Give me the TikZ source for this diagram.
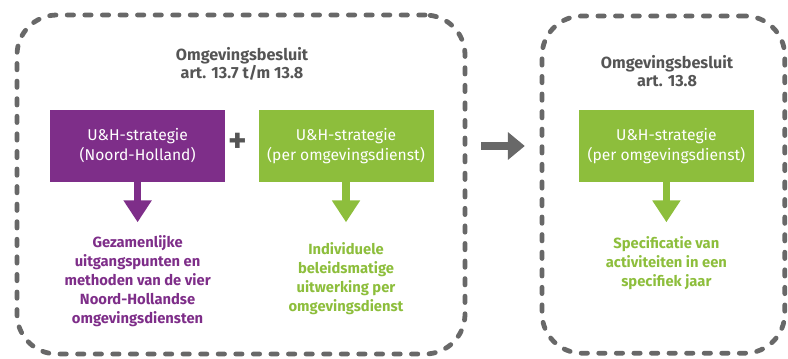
\documentclass[tikz,border=0pt]{standalone}
\usepackage{fontspec}
\setmainfont{Fira Sans}
\usepackage{tikz}
\usetikzlibrary{arrows.meta, positioning, calc}
\definecolor{nhpurple}{HTML}{7E2E89}
\definecolor{odgreen}{HTML}{8DBE3C}
\definecolor{framegray}{HTML}{686868}
\definecolor{titlegray}{HTML}{555555}
\tikzset{
  frame/.style={draw=framegray, line width=3.4pt, line cap=round, dash pattern=on 4.5pt off 8pt, rounded corners=1cm},
  box/.style={rectangle, minimum width=4.375cm, minimum height=1.8cm, text=white, align=center, font=\fontsize{11.1}{14.2}\selectfont},
  pbox/.style={box, fill=nhpurple},
  gbox/.style={box, fill=odgreen},
  title/.style={align=center, text=titlegray, font=\bfseries\fontsize{11.5}{13}\selectfont},
  result/.style={align=center, font=\bfseries\fontsize{10.5}{13.5}\selectfont},
  down/.style={-{Triangle[width=19pt, length=15.5pt]}, line width=5pt},
  step arrow/.style={-{Triangle[width=19pt, length=12pt]}, line width=6pt, framegray},
}

\begin{document}
\begin{tikzpicture}
  \useasboundingbox (0,0) rectangle (19.7,-8.95);

  % the two phases
  \node[frame, minimum width=11.2cm, minimum height=8.475cm] (fase1) at (6.025,-4.6125) {};
  \node[frame, minimum width=6.07cm, minimum height=8.43cm] (fase2) at (16.585,-4.615) {};

  \node[title] (t1) at (6.05,-1.6) {Omgevingsbesluit\\art. 13.7 t/m 13.8};
  \node[title] (t2) at (16.675,-1.775) {Omgevingsbesluit\\art. 13.8};

  \node[pbox] (nh) at (3.44,-3.65) {U\&H-strategie\\(Noord-Holland)};
  \node[gbox] (od) at (8.65,-3.65) {U\&H-strategie\\(per omgevingsdienst)};
  \node[text=titlegray, font=\bfseries\fontsize{25}{25}\selectfont, inner sep=0pt] (plus) at (5.95,-3.575) {+};
  \node[gbox] (od2) at (16.66,-3.65) {U\&H-strategie\\(per omgevingsdienst)};

  \draw[down, nhpurple] (nh.south) -- ++(0,-1) coordinate (nhtip);
  \draw[down, odgreen] (od.south) -- ++(0,-1) coordinate (odtip);
  \draw[down, odgreen] (od2.south) -- ++(0,-1) coordinate (od2tip);

  \node[result, text=nhpurple, below=0.2cm of nhtip] (gez)
    {Gezamenlijke\\uitgangspunten en\\methoden van de vier\\Noord-Hollandse\\omgevingsdiensten};
  \node[result, text=odgreen, below=0.38cm of odtip] (ind)
    {Individuele\\beleidsmatige\\uitwerking per\\omgevingsdienst};
  \node[result, text=odgreen, below=0.24cm of od2tip] (spec)
    {Specificatie van\\activiteiten in een\\specifiek jaar};

  \draw[step arrow, shorten <=0.35cm, shorten >=0.37cm] (fase1.east |- nh) -- (fase2.west |- nh);
\end{tikzpicture}
\end{document}
